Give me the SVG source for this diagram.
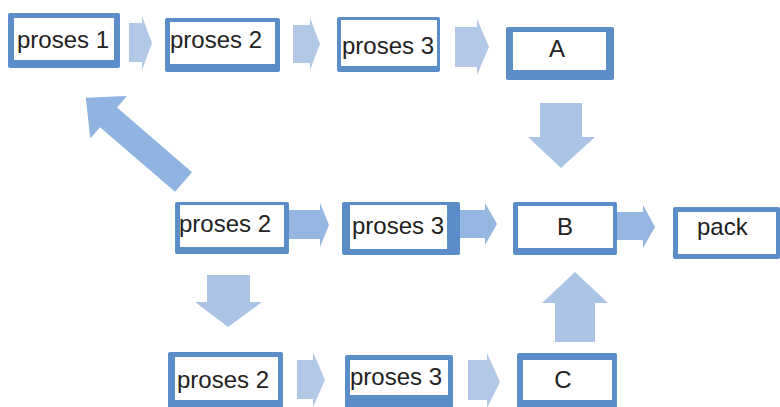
<svg xmlns="http://www.w3.org/2000/svg" width="780" height="407" viewBox="0 0 780 407">
<style>
.frame{fill:#5b8ec9}
.inner{fill:#ffffff}
.lbl{font-family:"Liberation Sans",Arial,sans-serif;font-size:24px;fill:#222222}
.c{text-anchor:middle}
.arL{fill:#b3c8e6}
.arM{fill:#94b6e0}
.arV{fill:#abc3e5}
.arD{fill:#8fb4e1}
</style>
<rect width="780" height="407" fill="#ffffff"/>
<g id="connectors">
  <polygon class="arL" points="129,23 142,23 142,16 152,43 142,70 142,62 129,62"/>
  <polygon class="arL" points="293,25 310,25 310,18 320,44 310,70 310,63 293,63"/>
  <polygon class="arL" points="455,27 477,27 477,19 489,47 477,75 477,67 455,67"/>
  <polygon class="arM" points="289,210 320,210 320,203 329,225 320,247 320,239 289,239"/>
  <polygon class="arM" points="458,210 485,210 485,203 497,224 485,245 485,238 458,238"/>
  <polygon class="arM" points="617,212 643,212 643,205 655,227 643,248 643,240 617,240"/>
  <polygon class="arL" points="297,360 313,360 313,352 325,380 313,407 313,399 297,399"/>
  <polygon class="arL" points="468,360 487,360 487,353 500,382 487,408 487,400 468,400"/>
  <polygon class="arV" points="540,103 582,103 582,137 595,137 561,168 528,137 540,137"/>
  <polygon class="arV" points="207,275 250,275 250,302 262,302 228,327 195,302 207,302"/>
  <polygon class="arV" points="555,342 595,342 595,303 608,303 575,272 542,303 555,303"/>
  <polygon class="arD" points="0,-13 99,-13 99,-28 129,0 99,28 99,13 0,13" transform="translate(183.5,182) rotate(220.8)"/>
</g>
<g id="proses1">
  <rect class="frame" x="8" y="13" width="112" height="55" rx="2"/>
  <rect class="inner" x="14" y="18" width="100" height="42"/>
  <text class="lbl" x="17" y="48">proses 1</text>
</g>
<g id="proses2-top">
  <rect class="frame" x="165" y="18" width="115" height="54" rx="2"/>
  <rect class="inner" x="170" y="22" width="105" height="42"/>
  <text class="lbl" x="170" y="48">proses 2</text>
</g>
<g id="proses3-top">
  <rect class="frame" x="337" y="17" width="103" height="55" rx="2"/>
  <rect class="inner" x="341" y="20" width="96" height="46"/>
  <text class="lbl" x="342" y="54">proses 3</text>
</g>
<g id="A">
  <rect class="frame" x="506" y="27" width="108" height="53" rx="2"/>
  <rect class="inner" x="513" y="32" width="93" height="38"/>
  <text class="lbl c" x="557" y="57">A</text>
</g>
<g id="proses2-mid">
  <rect class="frame" x="175" y="202" width="114" height="52" rx="2"/>
  <rect class="inner" x="180" y="205" width="104" height="42"/>
  <text class="lbl" x="179" y="232">proses 2</text>
</g>
<g id="proses3-mid">
  <rect class="frame" x="342" y="202" width="118" height="53" rx="2"/>
  <rect class="inner" x="350" y="205" width="97" height="44"/>
  <text class="lbl" x="352" y="234">proses 3</text>
</g>
<g id="B">
  <rect class="frame" x="513" y="202" width="104" height="53" rx="2"/>
  <rect class="inner" x="518" y="206" width="95" height="42"/>
  <text class="lbl c" x="565" y="235">B</text>
</g>
<g id="pack">
  <rect class="frame" x="673" y="207" width="107" height="52" rx="2"/>
  <rect class="inner" x="678" y="212" width="98" height="42"/>
  <text class="lbl" x="697" y="235">pack</text>
</g>
<g id="proses2-bottom">
  <rect class="frame" x="168" y="352" width="115" height="56" rx="2"/>
  <rect class="inner" x="175" y="357" width="103" height="43"/>
  <text class="lbl" x="177" y="388">proses 2</text>
</g>
<g id="proses3-bottom">
  <rect class="frame" x="345" y="355" width="108" height="55" rx="2"/>
  <rect class="inner" x="350" y="360" width="98" height="35"/>
  <text class="lbl" x="350" y="385">proses 3</text>
</g>
<g id="C">
  <rect class="frame" x="517" y="353" width="100" height="57" rx="2"/>
  <rect class="inner" x="523" y="360" width="89" height="40"/>
  <text class="lbl c" x="563" y="388">C</text>
</g>
</svg>
